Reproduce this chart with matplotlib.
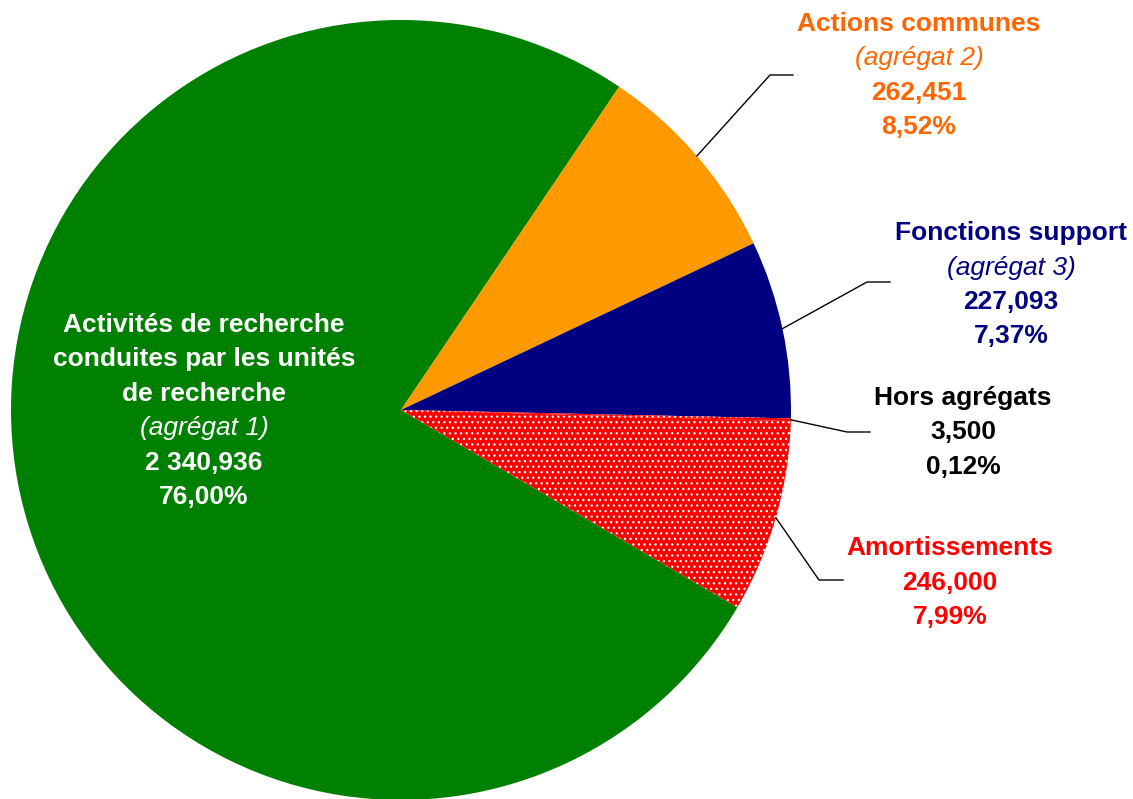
#!/usr/bin/env python3
import numpy as np
import matplotlib
matplotlib.use('Agg')
import matplotlib.pyplot as plt

plt.rcParams['font.family'] = ['Liberation Sans', 'DejaVu Sans']
plt.rcParams['hatch.linewidth'] = 0.9

# donnees (millions d'euros)
noms = ['Activités de recherche\nconduites par les unités\nde recherche',
        'Actions communes', 'Fonctions support', 'Hors agrégats', 'Amortissements']
sous_titres = ['(agrégat 1)', '(agrégat 2)', '(agrégat 3)', None, None]
valeurs = [2340.936, 262.451, 227.093, 3.500, 246.000]
textes_valeurs = ['2 340,936', '262,451', '227,093', '3,500', '246,000']
pourcents = ['76,00%', '8,52%', '7,37%', '0,12%', '7,99%']

couleurs = ['#008000', '#FF9900', '#000080', '#FF0000', '#FF0000']
couleurs_texte = ['white', '#FF6600', '#000080', 'black', '#FF0000']

W, H = 1133, 799
CX, CY, R = 401, 410, 390   # centre et rayon du camembert en pixels


def px(x, y):
    """pixels image -> coordonnees donnees"""
    return (x - CX) / R, (CY - y) / R


fig = plt.figure(figsize=(W / 100, H / 100), dpi=100)
ax = fig.add_axes([0, 0, 1, 1])

wedges, _ = ax.pie(valeurs, colors=couleurs, startangle=-30.4, counterclock=False,
                   wedgeprops=dict(linewidth=0))
for w in wedges[3:]:
    w.set_hatch('...')
    w.set_edgecolor('white')
    w.set_linewidth(0)

ax.set_xlim(-CX / R, (W - CX) / R)
ax.set_ylim((CY - H) / R, CY / R)
ax.set_aspect('equal', adjustable='box')
ax.axis('off')

# position du bloc de texte (centre de la premiere ligne) et coudes des traits
ancres = [(204, 325), (919, 24), (1011, 233), (963, 398), (950, 548)]
coudes = [None, [(770, 75), (793, 75)], [(867, 282), (890, 282)],
          [(847, 432), (870, 432)], [(819, 580), (843, 580)]]
pas = 34.5
taille = 19

for i, w in enumerate(wedges):
    lignes = []
    for n in noms[i].split('\n'):
        lignes.append((n, 'bold', 'normal'))
    if sous_titres[i]:
        lignes.append((sous_titres[i], 'normal', 'italic'))
    lignes.append((textes_valeurs[i], 'bold', 'normal'))
    lignes.append((pourcents[i], 'bold', 'normal'))
    x0, y0 = ancres[i]
    for k, (t, fw, st) in enumerate(lignes):
        ax.text(*px(x0, y0 + k * pas), t, ha='center', va='center', fontsize=taille,
                fontweight=fw, fontstyle=st, color=couleurs_texte[i])

    if coudes[i]:
        a = np.deg2rad((w.theta1 + w.theta2) / 2)
        xs = [np.cos(a)] + [px(*c)[0] for c in coudes[i]]
        ys = [np.sin(a)] + [px(*c)[1] for c in coudes[i]]
        ax.plot(xs, ys, color='black', linewidth=1)

fig.savefig('out.png', dpi=100)
